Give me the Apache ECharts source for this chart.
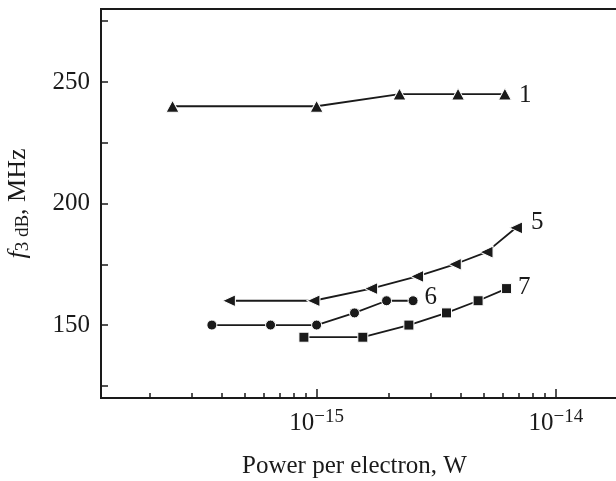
<!DOCTYPE html>
<html>
<head>
<meta charset="utf-8">
<script src="https://cdn.jsdelivr.net/npm/echarts@6/dist/echarts.min.js"></script>
<style>html,body{margin:0;padding:0;background:#fff;}#c{width:616px;height:481px;}</style>
</head>
<body>
<div id="c"></div>
<script>
// ---- data ----
const s1x = [2.5e-16, 1.0e-15, 2.22e-15, 3.9e-15, 6.12e-15];
const s1y = [240, 240, 245, 245, 245];
const s5x = [4.3e-16, 9.7e-16, 1.69e-15, 2.63e-15, 3.78e-15, 5.13e-15, 6.81e-15];
const s5y = [160, 160, 165, 170, 175, 180, 190];
const s6x = [3.65e-16, 6.42e-16, 1.0e-15, 1.44e-15, 1.96e-15, 2.53e-15];
const s6y = [150, 150, 150, 155, 160, 160];
const s7x = [8.85e-16, 1.56e-15, 2.43e-15, 3.49e-15, 4.73e-15, 6.22e-15];
const s7y = [145, 145, 150, 155, 160, 165];
const seriesNames = ['1', '5', '6', '7'];
const xMajorTicks = [1e-15, 1e-14];
const xMinorTicks = [2e-16, 3e-16, 4e-16, 5e-16, 6e-16, 7e-16, 8e-16, 9e-16,
                     2e-15, 3e-15, 4e-15, 5e-15, 6e-15, 7e-15, 8e-15, 9e-15];
const yTicks = [125, 150, 175, 200, 225, 250, 275];
const yLabels = [150, 200, 250];
const xMin = 1.256e-16, xMax = 2.04e-14, yMin = 120, yMax = 280;

const INK = '#1a1a1a';
const FONT = '"Liberation Serif", "DejaVu Serif", serif';

function pairs(xs, ys) { return xs.map((x, i) => [x, ys[i]]); }
function withEndLabel(data, name, offset, dist) {
  const d = data.map(p => ({ value: p }));
  d[d.length - 1].label = {
    show: true, position: 'right', distance: dist, offset: offset,
    formatter: name, fontFamily: FONT, fontSize: 25, color: INK
  };
  return d;
}

const chart = echarts.init(document.getElementById('c'), null, { renderer: 'canvas' });
const baseSeries = {
  type: 'line', xAxisIndex: 0, yAxisIndex: 0,
  lineStyle: { color: INK, width: 1.8 },
  itemStyle: { color: INK, borderColor: '#fff', borderWidth: 1 },
  emphasis: { disabled: true }, animation: false, z: 3
};

chart.setOption({
  animation: false,
  backgroundColor: '#fff',
  grid: { left: 101, right: -14, top: 9, bottom: 83, show: true,
          borderColor: INK, borderWidth: 2, containLabel: false, outerBoundsMode: 'none' },
  xAxis: [
    {
      type: 'log', logBase: 10, min: xMin, max: xMax, position: 'bottom',
      axisLine: { show: true, lineStyle: { color: INK, width: 2 } },
      axisTick: { show: true, inside: true, length: 9, lineStyle: { color: INK, width: 1.5 },
                  customValues: xMajorTicks },
      axisLabel: {
        show: true, margin: 10, customValues: xMajorTicks,
        formatter: v => '{a|10}{b|\u2212' + Math.abs(Math.round(Math.log10(v))) + '}',
        rich: {
          a: { fontFamily: FONT, fontSize: 25, color: INK, lineHeight: 30, verticalAlign: 'middle' },
          b: { fontFamily: FONT, fontSize: 19, color: INK, lineHeight: 14, verticalAlign: 'top' }
        }
      },
      splitLine: { show: false },
      name: 'Power per electron, W', nameLocation: 'middle', nameGap: 56,
      nameTextStyle: { fontFamily: FONT, fontSize: 25, color: INK, padding: [0, 22, 0, 0] }
    },
    {
      type: 'log', logBase: 10, min: xMin, max: xMax, position: 'bottom',
      axisLine: { show: false },
      axisTick: { show: true, inside: true, length: 5, lineStyle: { color: INK, width: 1.5 },
                  customValues: xMinorTicks },
      axisLabel: { show: false },
      splitLine: { show: false }
    }
  ],
  yAxis: [{
    type: 'value', min: yMin, max: yMax,
    axisLine: { show: true, lineStyle: { color: INK, width: 2 } },
    axisTick: { show: true, inside: true, length: 7, lineStyle: { color: INK, width: 1.5 },
                customValues: yTicks },
    axisLabel: { show: true, margin: 11, customValues: yLabels,
                 fontFamily: FONT, fontSize: 25, color: INK },
    splitLine: { show: false },
    name: '{i|f}{s|3 dB}{n|, MHz}', nameLocation: 'middle', nameRotate: 90, nameGap: 68,
    nameTextStyle: {
      rich: {
        i: { fontFamily: FONT, fontStyle: 'italic', fontSize: 26, color: INK, lineHeight: 30, verticalAlign: 'middle' },
        s: { fontFamily: FONT, fontSize: 19, color: INK, lineHeight: 14, verticalAlign: 'bottom' },
        n: { fontFamily: FONT, fontSize: 26, color: INK, lineHeight: 30, verticalAlign: 'middle' }
      }
    }
  }],
  series: [
    Object.assign({}, baseSeries, { name: seriesNames[0], symbol: 'triangle', symbolSize: [13, 12],
      data: withEndLabel(pairs(s1x, s1y), seriesNames[0], [0, 1], 7) }),
    Object.assign({}, baseSeries, { name: seriesNames[1], symbol: 'triangle', symbolSize: [12, 13], symbolRotate: 90,
      data: withEndLabel(pairs(s5x, s5y), seriesNames[1], [0, -5], 8) }),
    Object.assign({}, baseSeries, { name: seriesNames[2], symbol: 'circle', symbolSize: 10,
      data: withEndLabel(pairs(s6x, s6y), seriesNames[2], [0, -3], 6) }),
    Object.assign({}, baseSeries, { name: seriesNames[3], symbol: 'rect', symbolSize: 10,
      data: withEndLabel(pairs(s7x, s7y), seriesNames[3], [0, -1], 6) })
  ]
});
</script>
</body>
</html>
